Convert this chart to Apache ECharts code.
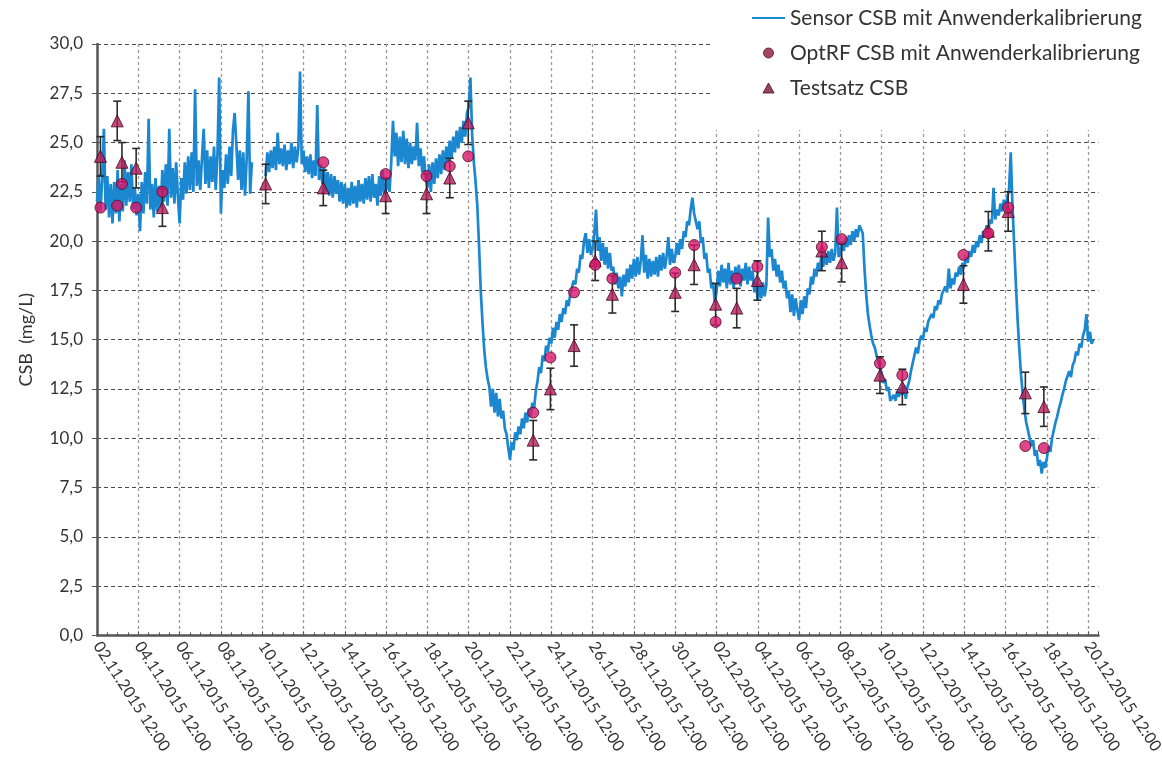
<!DOCTYPE html>
<html>
<head>
<meta charset="utf-8">
<script src="https://cdn.jsdelivr.net/npm/echarts@6/dist/echarts.min.js"></script>
<style>
  html, body { margin: 0; padding: 0; background: #ffffff; }
  #chart { width: 1162px; height: 774px; }
</style>
</head>
<body>
<div id="chart"></div>
<script>
// ---------- data ----------
const seriesNames = ['Sensor CSB mit Anwenderkalibrierung', 'OptRF CSB mit Anwenderkalibrierung', 'Testsatz CSB'];
const axisStart = '02.11.2015 12:00';
const axisEndDays = 48.5;
const yTicks = [0, 2.5, 5, 7.5, 10, 12.5, 15, 17.5, 20, 22.5, 25, 27.5, 30];

// Sensor line: one value every 2 hours, starting 02.11.2015 12:00, one row per day
const sensorStart = '02.11.2015 12:00';
const sensorStepHours = 2;
const sensorValues = [
  22.0, 23.4, 21.5, 23.1, 25.7, 21.6, 23.3, 21.2, 22.9, 20.9, 23.0, 21.4,
  23.6, 21.0, 22.9, 21.5, 24.1, 21.8, 23.5, 22.0, 23.9, 21.6, 22.7, 21.3,
  22.4, 20.5, 23.0, 21.4, 23.5, 21.9, 26.2, 21.6, 22.9, 21.2, 23.2, 21.5,
  22.8, 21.7, 23.6, 22.0, 23.9, 21.8, 25.7, 22.2, 23.7, 21.9, 24.0, 22.3,
  20.9, 23.2, 22.1, 24.0, 22.4, 24.3, 22.6, 24.5, 22.5, 27.7, 22.8, 24.1,
  22.6, 24.2, 25.7, 22.9, 24.6, 22.7, 24.3, 23.0, 24.8, 22.6, 24.4, 28.3,
  21.4, 23.6, 22.7, 24.4, 22.9, 24.8, 23.3, 25.6, 26.5, 24.9, 23.1, 24.6,
  22.6, 24.5, 22.3, 24.2, 27.6, 22.4, 24.0, null, null, null, null, null,
  null, null, 23.3, 24.5, 23.5, 24.6, 23.7, 24.8, 23.6, 25.5, 23.9, 24.7,
  23.8, 24.9, 23.6, 24.6, 23.9, 25.0, 23.7, 24.8, 24.0, 24.7, 28.6, 23.9,
  24.6, 23.5, 24.3, 23.4, 24.4, 23.2, 24.1, 23.3, 26.9, 23.1, 23.9, 22.9,
  23.7, 22.5, 23.5, 22.3, 23.4, 22.2, 23.3, 22.4, 23.1, 22.0, 23.0, 21.9,
  22.9, 21.7, 22.7, 21.8, 23.0, 21.9, 22.8, 21.7, 23.1, 22.0, 22.9, 21.9,
  23.2, 22.1, 23.3, 22.0, 23.4, 22.2, 22.9, 21.8, 23.3, 22.3, 23.6, 22.4,
  22.6, 23.2, 22.5, 24.0, 26.1, 24.3, 25.5, 23.8, 25.3, 24.0, 25.6, 23.9,
  25.2, 23.7, 25.0, 23.9, 24.8, 24.1, 26.0, 23.8, 24.7, 23.5, 24.3, 23.2,
  22.7, 23.9, 22.5, 24.0, 22.9, 24.2, 23.2, 24.4, 23.4, 24.6, 23.6, 24.8,
  24.0, 25.1, 24.2, 25.3, 24.5, 25.6, 24.7, 25.8, 25.0, 26.1, 25.3, 26.5,
  26.8, 28.3, 25.4, 24.0, 23.0, 21.8, 19.8, 17.5, 15.9, 14.5, 13.6, 13.0,
  12.6, 11.6, 12.5, 11.3, 12.3, 11.1, 12.0, 11.0, 11.4, 10.5, 10.2, 9.5,
  8.9, 9.8, 9.4, 10.3, 9.9, 10.6, 10.2, 11.0, 10.5, 11.3, 10.8, 11.5,
  11.1, 11.8, 11.5, 12.4, 12.9, 13.6, 13.3, 14.2, 13.9, 14.7, 14.4, 15.1,
  14.8, 15.6, 15.1, 15.9, 15.5, 16.3, 15.9, 16.6, 16.3, 17.0, 16.7, 17.3,
  17.3, 18.0, 17.8, 18.6, 18.4, 19.3, 19.1, 20.0, 20.4, 19.4, 20.1, 19.3,
  19.6, 20.4, 21.6, 19.5, 20.2, 19.0, 19.9, 18.8, 19.7, 18.6, 19.4, 18.5,
  18.7, 17.8, 18.4, 17.6, 18.2, 17.2, 18.3, 17.7, 18.6, 17.9, 18.8, 18.1,
  19.1, 18.2, 19.2, 18.3, 19.0, 20.3, 18.4, 19.3, 18.1, 19.1, 18.2, 19.0,
  18.3, 19.2, 18.2, 19.3, 18.5, 19.4, 18.6, 19.2, 20.2, 18.8, 19.6, 18.9,
  19.2, 19.9, 19.3, 20.1, 19.6, 20.5, 20.2, 21.0, 20.8, 21.6, 22.2, 21.4,
  21.5, 20.6, 21.0, 19.9, 20.2, 19.1, 19.4, 18.4, 18.6, 17.6, 17.9, 16.9,
  17.4, 18.5, 17.7, 18.8, 17.9, 18.6, 17.6, 18.9, 17.8, 18.5, 17.6, 18.7,
  17.9, 18.8, 17.7, 18.6, 18.0, 18.9, 17.8, 18.7, 18.0, 18.5, 17.4, 17.9,
  17.0, 17.8, 17.1, 17.9, 17.2, 17.8, 21.2, 19.2, 19.6, 18.5, 19.1, 18.2,
  18.8, 17.9, 18.5, 17.6, 18.0, 17.1, 17.5, 16.4, 17.3, 16.2, 17.1, 16.5,
  16.0, 17.0, 16.3, 17.2, 16.6, 17.6, 17.3, 18.2, 17.8, 18.6, 18.2, 18.9,
  18.5, 19.3, 18.7, 19.4, 18.8, 19.5, 18.9, 19.6, 19.0, 19.4, 21.7, 19.2,
  19.4, 20.0, 19.5, 20.2, 19.7, 20.3, 19.8, 20.5, 20.0, 20.6, 20.2, 20.8,
  20.9, 20.4, 18.6, 17.3, 16.3, 15.7, 15.2, 14.8, 14.6, 14.2, 13.9, 13.6,
  13.3, 12.8, 13.0, 12.4, 12.6, 11.9, 11.8, 12.2, 11.9, 12.4, 12.1, 12.5,
  12.2, 12.7, 12.0, 12.6, 12.9, 13.4, 13.8, 14.2, 14.6, 14.3, 14.9, 15.2,
  15.0, 15.6, 15.4, 15.9, 15.8, 16.3, 16.1, 16.7, 16.5, 17.0, 16.8, 17.3,
  17.2, 17.7, 17.4, 18.6, 17.6, 18.1, 17.8, 18.4, 18.2, 18.7, 18.3, 18.9,
  18.7, 19.2, 18.9, 19.5, 19.2, 19.8, 19.4, 20.0, 19.7, 20.3, 19.9, 20.5,
  20.3, 20.8, 20.6, 21.1, 20.9, 22.7, 21.1, 21.6, 21.3, 21.9, 21.5, 22.1,
  21.6, 22.2, 22.6, 24.5, 21.8, 19.8, 17.8, 16.0, 14.5, 13.2, 12.2, 11.4,
  10.8, 10.4, 10.0, 9.6, 9.9, 9.1, 9.4, 8.6, 8.9, 8.2, 8.8, 8.5,
  9.0, 9.6, 9.3, 10.0, 10.4, 10.8, 11.1, 11.5, 11.8, 12.2, 12.5, 12.9,
  12.8, 13.4, 13.1, 13.7, 13.9, 14.4, 14.2, 14.8, 14.6, 15.2, 15.5, 16.3,
  14.9, 15.4, 14.8, 15.0
];

// OptRF CSB (circles)
const optrfTimes = [
  '02.11.2015 16:00', '03.11.2015 11:30', '03.11.2015 17:00', '04.11.2015 09:30', '05.11.2015 16:00',
  '13.11.2015 11:00', '16.11.2015 11:30', '18.11.2015 11:00', '19.11.2015 14:00', '20.11.2015 11:30',
  '23.11.2015 15:00', '24.11.2015 11:00', '25.11.2015 14:30', '26.11.2015 15:00', '27.11.2015 11:00',
  '30.11.2015 12:00', '01.12.2015 10:00', '02.12.2015 11:00', '03.12.2015 11:30', '04.12.2015 11:30',
  '07.12.2015 14:30', '08.12.2015 13:30', '10.12.2015 10:00', '11.12.2015 12:00', '14.12.2015 11:00',
  '15.12.2015 16:00', '16.12.2015 15:00', '17.12.2015 11:00', '18.12.2015 08:30'
];
const optrfValues = [
  21.7, 21.8, 22.9, 21.7, 22.5,
  24.0, 23.4, 23.3, 23.8, 24.3,
  11.3, 14.1, 17.4, 18.8, 18.1,
  18.4, 19.8, 15.9, 18.1, 18.7,
  19.7, 20.1, 13.8, 13.2, 19.3,
  20.4, 21.7, 9.6, 9.5
];

// Testsatz CSB (triangles) with error (+/-)
const testTimes = [
  '02.11.2015 16:00', '03.11.2015 11:30', '03.11.2015 17:00', '04.11.2015 09:30', '05.11.2015 16:00',
  '10.11.2015 16:00', '13.11.2015 11:00', '16.11.2015 11:30', '18.11.2015 11:00', '19.11.2015 14:00',
  '20.11.2015 11:30', '23.11.2015 15:00', '24.11.2015 11:00', '25.11.2015 14:30', '26.11.2015 15:00',
  '27.11.2015 11:00', '30.11.2015 12:00', '01.12.2015 10:00', '02.12.2015 11:00', '03.12.2015 11:30',
  '04.12.2015 11:30', '07.12.2015 14:30', '08.12.2015 13:30', '10.12.2015 10:00', '11.12.2015 12:00',
  '14.12.2015 11:00', '15.12.2015 16:00', '16.12.2015 15:00', '17.12.2015 11:00', '18.12.2015 08:30'
];
const testValues = [
  24.3, 26.1, 24.0, 23.7, 21.7,
  22.9, 22.7, 22.3, 22.4, 23.2,
  26.0, 9.9, 12.5, 14.7, 19.0,
  17.3, 17.4, 18.8, 16.8, 16.6,
  18.0, 19.5, 18.9, 13.2, 12.6,
  17.8, 20.5, 21.5, 12.3, 11.6
];
const testErrors = [
  1.0, 1.0, 1.0, 1.0, 0.95,
  1.0, 0.9, 0.9, 1.0, 1.0,
  1.1, 1.0, 1.05, 1.05, 1.0,
  0.95, 0.97, 1.0, 1.05, 1.0,
  1.0, 1.0, 0.97, 0.93, 0.9,
  0.95, 1.0, 1.0, 1.05, 1.0
];

// ---------- helpers ----------
function parseDE(s) {
  const m = s.match(/(\d+)\.(\d+)\.(\d+)\s+(\d+):(\d+)/);
  return Date.UTC(+m[3], +m[2] - 1, +m[1], +m[4], +m[5]);
}
const DAY = 86400000;
const base = parseDE(axisStart);
function toDays(s) { return (parseDE(s) - base) / DAY; }
function pad(n) { return (n < 10 ? '0' : '') + n; }
function fmtDate(days) {
  const d = new Date(base + days * DAY);
  return pad(d.getUTCDate()) + '.' + pad(d.getUTCMonth() + 1) + '.' + d.getUTCFullYear() + ' ' +
    pad(d.getUTCHours()) + ':' + pad(d.getUTCMinutes());
}

const sensorOffset = toDays(sensorStart);
const sensorData = sensorValues.map((v, i) => [sensorOffset + i * sensorStepHours / 24, v]);
const optrfData = optrfTimes.map((t, i) => [toDays(t), optrfValues[i]]);
const testData = testTimes.map((t, i) => [toDays(t), testValues[i]]);
const errData = testTimes.map((t, i) => [toDays(t), testValues[i] - testErrors[i], testValues[i] + testErrors[i]]);

const FONT = 'Lato, "Open Sans", sans-serif';
const chart = echarts.init(document.getElementById('chart'), null, { renderer: 'canvas' });

chart.setOption({
  animation: false,
  backgroundColor: '#ffffff',
  textStyle: { fontFamily: FONT },
  grid: { left: 97, right: 63.5, top: 44, bottom: 138.7, containLabel: false, outerBoundsMode: 'none' },
  legend: {
    orient: 'vertical',
    left: 713,
    top: 0,
    padding: [6, 8, 30, 39],
    backgroundColor: '#ffffff',
    itemWidth: 33,
    itemHeight: 10,
    itemGap: 11,
    z: 10,
    textStyle: { fontFamily: FONT, fontSize: 21, color: '#333333', lineHeight: 24 },
    data: [
      { name: seriesNames[0], icon: 'path://M0 0H100V6H0Z', itemStyle: { color: '#1e88d0', borderWidth: 0 } },
      { name: seriesNames[1], icon: 'circle', itemStyle: { color: '#8c1a3c', borderColor: '#5a1028', borderWidth: 1 } },
      { name: seriesNames[2], icon: 'path://M5 0L10 9L0 9Z', itemStyle: { color: '#7a1638', borderColor: '#4a0d22', borderWidth: 1 } }
    ]
  },
  xAxis: {
    type: 'value',
    min: 0,
    max: axisEndDays,
    interval: 2,
    axisLine: { show: true, onZero: false, lineStyle: { color: '#555555', width: 2.5 } },
    axisTick: { show: true, inside: true, length: 4, lineStyle: { color: '#555555', width: 1 } },
    minorTick: { show: true, splitNumber: 4, length: 3, lineStyle: { color: '#555555', width: 1 } },
    splitLine: { show: true, showMinLine: false, showMaxLine: false,
      lineStyle: { color: '#9a9a9a', width: 1.3, type: [3, 3] } },
    axisLabel: {
      rotate: -57, margin: 8, fontSize: 16, color: '#333333', fontFamily: FONT,
      showMaxLabel: false,
      formatter: function (v) {
        if (Math.abs(v - Math.round(v)) > 1e-6 || Math.round(v) % 2 !== 0) return '';
        return fmtDate(v);
      }
    }
  },
  yAxis: {
    type: 'value',
    min: yTicks[0],
    max: yTicks[yTicks.length - 1],
    interval: yTicks[1] - yTicks[0],
    name: 'CSB  (mg/L)',
    nameLocation: 'middle',
    nameRotate: 90,
    nameGap: 62,
    nameTextStyle: { fontSize: 18, color: '#333333', fontFamily: FONT },
    axisLine: { show: true, lineStyle: { color: '#555555', width: 2.5 } },
    axisTick: { show: true, inside: false, length: 5, lineStyle: { color: '#555555', width: 1 } },
    splitLine: { show: true, showMinLine: false,
      lineStyle: { color: '#4a4a4a', width: 1, type: [4, 3] } },
    axisLabel: {
      fontSize: 17, color: '#333333', margin: 14, fontFamily: FONT,
      formatter: function (v) { return v.toFixed(1).replace('.', ','); }
    }
  },
  series: [
    {
      name: seriesNames[0],
      type: 'line',
      data: sensorData,
      symbol: 'none',
      showSymbol: false,
      connectNulls: false,
      lineStyle: { color: '#1c87d1', width: 2.7 },
      itemStyle: { color: '#1c87d1' },
      z: 2
    },
    {
      name: 'errorbars',
      type: 'custom',
      data: errData,
      z: 3,
      renderItem: function (params, api) {
        const x = api.value(0);
        const lo = api.coord([x, api.value(1)]);
        const hi = api.coord([x, api.value(2)]);
        const w = 4;
        const style = { stroke: '#2b2b2b', lineWidth: 1.6 };
        return {
          type: 'group',
          children: [
            { type: 'line', shape: { x1: lo[0], y1: lo[1], x2: hi[0], y2: hi[1] }, style: style },
            { type: 'line', shape: { x1: lo[0] - w, y1: lo[1], x2: lo[0] + w, y2: lo[1] }, style: style },
            { type: 'line', shape: { x1: hi[0] - w, y1: hi[1], x2: hi[0] + w, y2: hi[1] }, style: style }
          ]
        };
      },
      encode: { x: 0, y: [1, 2] },
      silent: true
    },
    {
      name: seriesNames[2],
      type: 'scatter',
      data: testData,
      symbol: 'triangle',
      symbolSize: 12,
      itemStyle: { color: '#b21f5c', borderColor: '#3e0a1e', borderWidth: 1 },
      z: 4
    },
    {
      name: seriesNames[1],
      type: 'scatter',
      data: optrfData,
      symbol: 'circle',
      symbolSize: 11,
      itemStyle: { color: '#d8176b', borderColor: '#4a0d22', borderWidth: 1 },
      z: 5
    }
  ]
});
</script>
</body>
</html>
